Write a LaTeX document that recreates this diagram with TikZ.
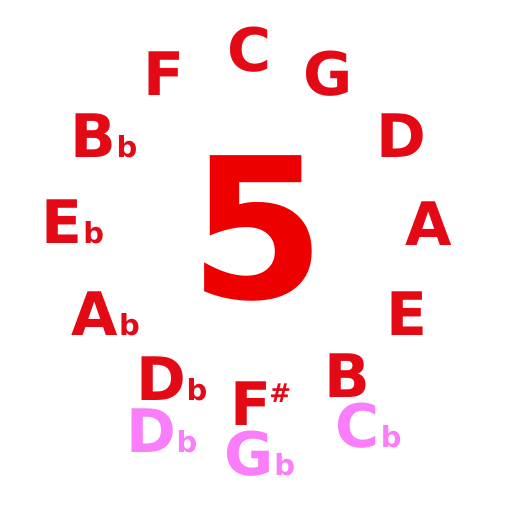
\documentclass[tikz,border=0pt]{standalone}
\usepackage{fontspec}
\setmainfont{DejaVu Sans}
\newfontfamily\notefont{DejaVu Sans}[BoldFont={* Bold}]
\usepackage{tikz}
\definecolor{notered}{RGB}{227,10,22}
\definecolor{fivered}{RGB}{238,0,0}
\definecolor{notepink}{RGB}{250,125,250}
\tikzset{
  note/.style={inner sep=0pt, anchor=base, text=notered, font=\notefont\bfseries\fontsize{30pt}{30pt}\selectfont},
  alt/.style={note, text=notepink},
  flat/.style={inner sep=0pt, anchor=base west, font=\notefont\bfseries\fontsize{14.5pt}{14.5pt}\selectfont},
  sharp/.style={inner sep=0pt, anchor=base west, text=notered, font=\notefont\bfseries\fontsize{13pt}{13pt}\selectfont}
}
\begin{document}
\begin{tikzpicture}[x=0.5pt,y=-0.5pt]
    \useasboundingbox (0,0) rectangle (512,512);
    % Chiffre central
    \node[inner sep=0pt, anchor=base, text=fivered, font=\notefont\bfseries\fontsize{98pt}{98pt}\selectfont] (five) at (258,299) {5};

    % Notes du cycle des quintes
    \node[note] (C) at (250,72) {C};
    \node[note] (G) at (328,96) {G};
    \node[note] (D) at (401,158) {D};
    \node[note] (A) at (429,246) {A};
    \node[note] (E) at (407,335) {E};
    \node[note] (B) at (347,397) {B};
    \node[note] (Fs) at (251,425) {F};
    \node[note] (Db) at (161,400) {D};
    \node[note] (Ab) at (95,335) {A};
    \node[note] (Eb) at (62,244) {E};
    \node[note] (Bb) at (93,158) {B};
    \node[note] (F) at (164,96) {F};

    % Notes enharmoniques
    \node[alt] (Dbalt) at (151,452) {D};
    \node[alt] (Gb) at (249,475) {G};
    \node[alt] (Cb) at (358,447) {C};

    % Bemols et diese
    \node[flat, text=notered] (Db-flat) at (Db.base east) {b};
    \node[flat, text=notered] (Ab-flat) at (Ab.base east) {b};
    \node[flat, text=notered] (Eb-flat) at (Eb.base east) {b};
    \node[flat, text=notered] (Bb-flat) at (Bb.base east) {b};
    \node[flat, text=notepink] (Dbalt-flat) at (Dbalt.base east) {b};
    \node[flat, text=notepink] (Gb-flat) at (Gb.base east) {b};
    \node[flat, text=notepink] (Cb-flat) at (Cb.base east) {b};
    \node[sharp, xshift=-1.5pt, yshift=11.5pt] (Fs-sharp) at (Fs.base east) {\#};
\end{tikzpicture}
\end{document}
